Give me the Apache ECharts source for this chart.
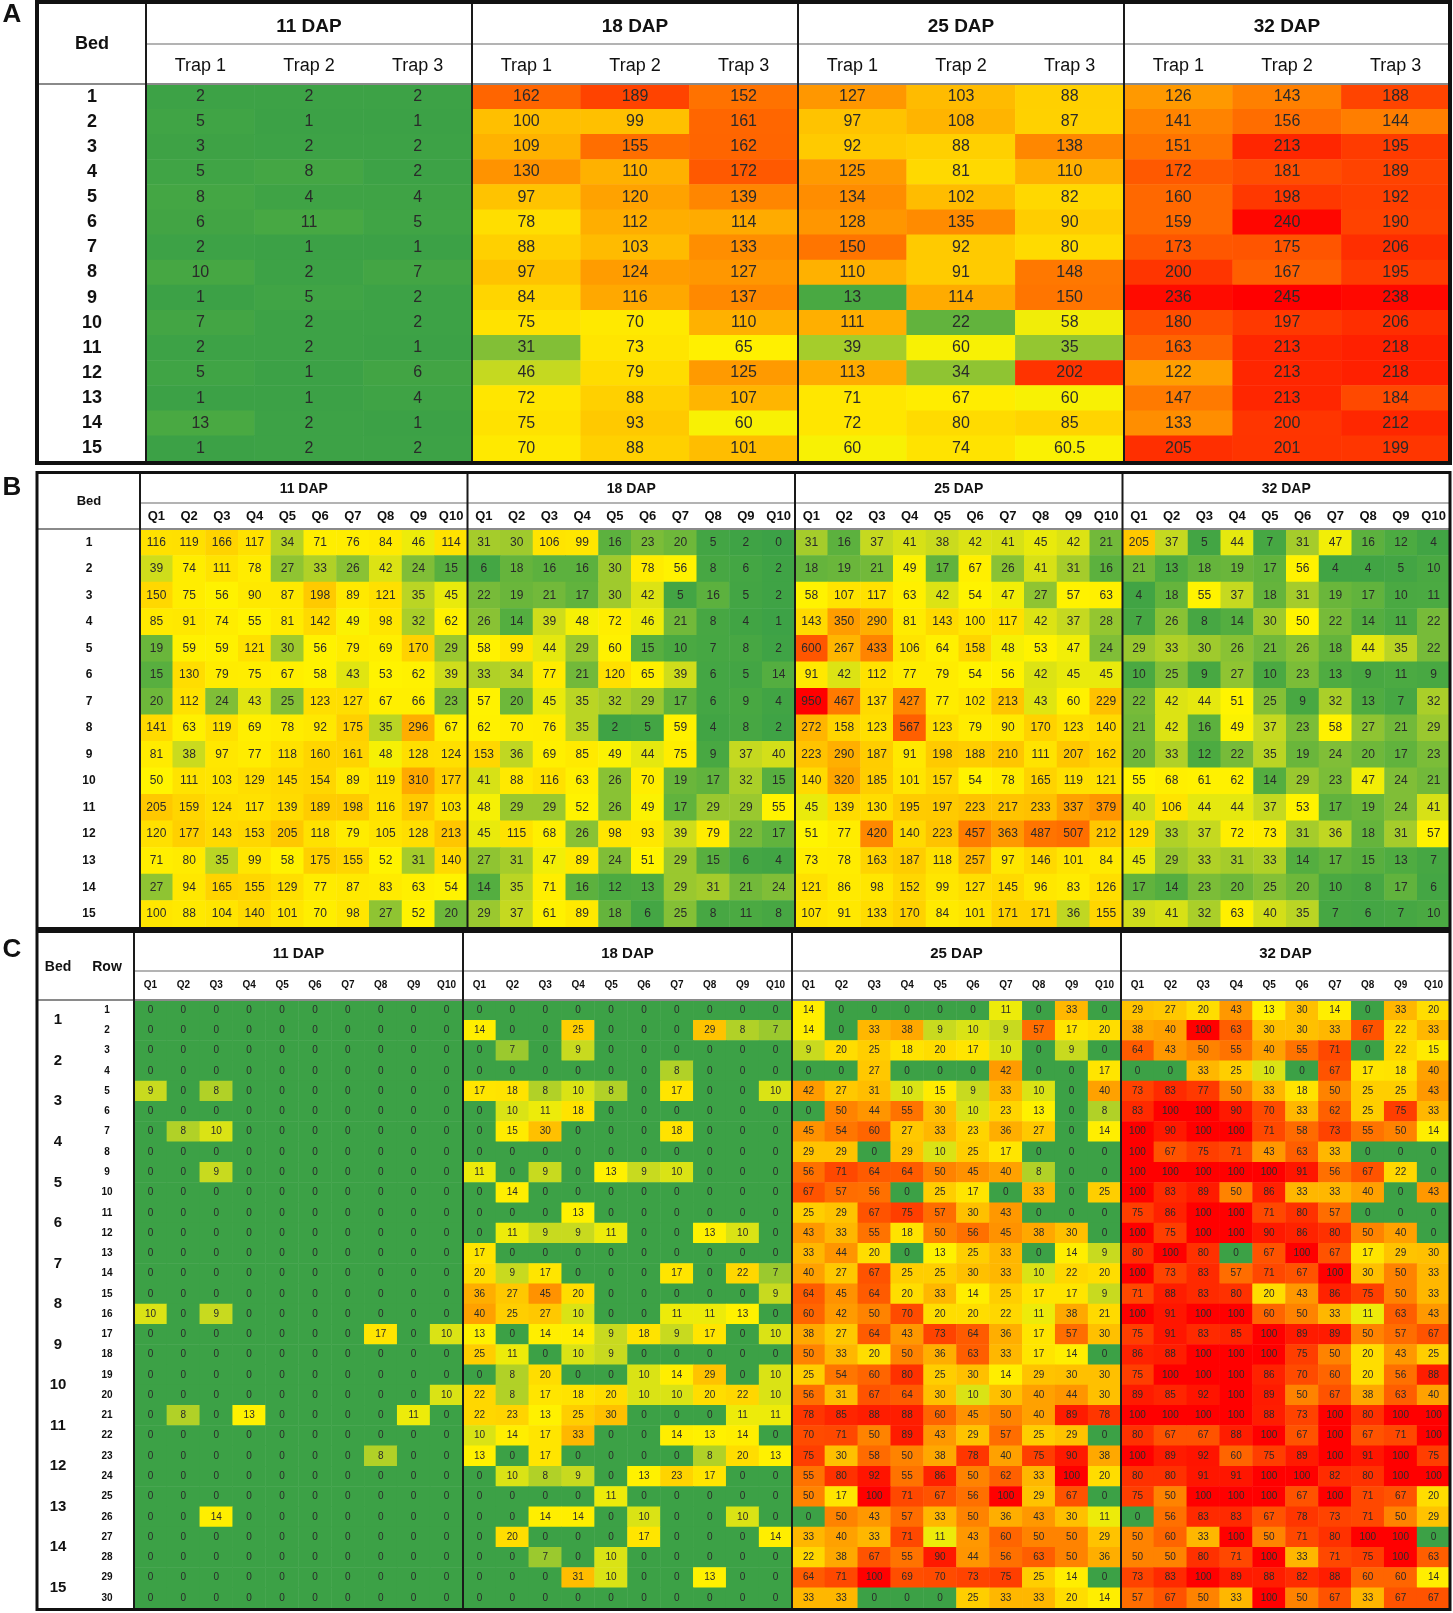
<!DOCTYPE html>
<html>
<head>
<meta charset="utf-8">
<script src="https://cdn.jsdelivr.net/npm/echarts@6/dist/echarts.min.js"></script>
<style>
html, body { margin: 0; padding: 0; background: #fff; }
#chart { width: 1453px; height: 1613px; }
</style>
</head>
<body>
<div id="chart"></div>
<script>
// header / tick labels
const dapLabels = ['11 DAP', '18 DAP', '25 DAP', '32 DAP'];
const trapLabels = ['Trap 1', 'Trap 2', 'Trap 3'];
const qLabels = ['Q1', 'Q2', 'Q3', 'Q4', 'Q5', 'Q6', 'Q7', 'Q8', 'Q9', 'Q10'];
const bedLabels = ['1', '2', '3', '4', '5', '6', '7', '8', '9', '10', '11', '12', '13', '14', '15'];
const rowLabels = ['1', '2', '3', '4', '5', '6', '7', '8', '9', '10', '11', '12', '13', '14', '15',
  '16', '17', '18', '19', '20', '21', '22', '23', '24', '25', '26', '27', '28', '29', '30'];

// A: counts per trap (rows = beds)
const a11 = [[2,2,2],[5,1,1],[3,2,2],[5,8,2],[8,4,4],[6,11,5],[2,1,1],[10,2,7],[1,5,2],[7,2,2],[2,2,1],[5,1,6],[1,1,4],[13,2,1],[1,2,2]];
const a18 = [[162,189,152],[100,99,161],[109,155,162],[130,110,172],[97,120,139],[78,112,114],[88,103,133],[97,124,127],[84,116,137],[75,70,110],[31,73,65],[46,79,125],[72,88,107],[75,93,60],[70,88,101]];
const a25 = [[127,103,88],[97,108,87],[92,88,138],[125,81,110],[134,102,82],[128,135,90],[150,92,80],[110,91,148],[13,114,150],[111,22,58],[39,60,35],[113,34,202],[71,67,60],[72,80,85],[60,74,60.5]];
const a32 = [[126,143,188],[141,156,144],[151,213,195],[172,181,189],[160,198,192],[159,240,190],[173,175,206],[200,167,195],[236,245,238],[180,197,206],[163,213,218],[122,213,218],[147,213,184],[133,200,212],[205,201,199]];

// B: per quadrat (rows = beds)
const b11 = [
  [116,119,166,117,34,71,76,84,46,114],[39,74,111,78,27,33,26,42,24,15],[150,75,56,90,87,198,89,121,35,45],
  [85,91,74,55,81,142,49,98,32,62],[19,59,59,121,30,56,79,69,170,29],[15,130,79,75,67,58,43,53,62,39],
  [20,112,24,43,25,123,127,67,66,23],[141,63,119,69,78,92,175,35,296,67],[81,38,97,77,118,160,161,48,128,124],
  [50,111,103,129,145,154,89,119,310,177],[205,159,124,117,139,189,198,116,197,103],[120,177,143,153,205,118,79,105,128,213],
  [71,80,35,99,58,175,155,52,31,140],[27,94,165,155,129,77,87,83,63,54],[100,88,104,140,101,70,98,27,52,20]];
const b18 = [
  [31,30,106,99,16,23,20,5,2,0],[6,18,16,16,30,78,56,8,6,2],[22,19,21,17,30,42,5,16,5,2],
  [26,14,39,48,72,46,21,8,4,1],[58,99,44,29,60,15,10,7,8,2],[33,34,77,21,120,65,39,6,5,14],
  [57,20,45,35,32,29,17,6,9,4],[62,70,76,35,2,5,59,4,8,2],[153,36,69,85,49,44,75,9,37,40],
  [41,88,116,63,26,70,19,17,32,15],[48,29,29,52,26,49,17,29,29,55],[45,115,68,26,98,93,39,79,22,17],
  [27,31,47,89,24,51,29,15,6,4],[14,35,71,16,12,13,29,31,21,24],[29,37,61,89,18,6,25,8,11,8]];
const b25 = [
  [31,16,37,41,38,42,41,45,42,21],[18,19,21,49,17,67,26,41,31,16],[58,107,117,63,42,54,47,27,57,63],
  [143,350,290,81,143,100,117,42,37,28],[600,267,433,106,64,158,48,53,47,24],[91,42,112,77,79,54,56,42,45,45],
  [950,467,137,427,77,102,213,43,60,229],[272,158,123,567,123,79,90,170,123,140],[223,290,187,91,198,188,210,111,207,162],
  [140,320,185,101,157,54,78,165,119,121],[45,139,130,195,197,223,217,233,337,379],[51,77,420,140,223,457,363,487,507,212],
  [73,78,163,187,118,257,97,146,101,84],[121,86,98,152,99,127,145,96,83,126],[107,91,133,170,84,101,171,171,36,155]];
const b32 = [
  [205,37,5,44,7,31,47,16,12,4],[21,13,18,19,17,56,4,4,5,10],[4,18,55,37,18,31,19,17,10,11],
  [7,26,8,14,30,50,22,14,11,22],[29,33,30,26,21,26,18,44,35,22],[10,25,9,27,10,23,13,9,11,9],
  [22,42,44,51,25,9,32,13,7,32],[21,42,16,49,37,23,58,27,21,29],[20,33,12,22,35,19,24,20,17,23],
  [55,68,61,62,14,29,23,47,24,21],[40,106,44,44,37,53,17,19,24,41],[129,33,37,72,73,31,36,18,31,57],
  [45,29,33,31,33,14,17,15,13,7],[17,14,23,20,25,20,10,8,17,6],[39,41,32,63,40,35,7,6,7,10]];

// C: per quadrat (rows 1-30, two per bed)
const c11 = [
  [0,0,0,0,0,0,0,0,0,0],[0,0,0,0,0,0,0,0,0,0],[0,0,0,0,0,0,0,0,0,0],[0,0,0,0,0,0,0,0,0,0],
  [9,0,8,0,0,0,0,0,0,0],[0,0,0,0,0,0,0,0,0,0],[0,8,10,0,0,0,0,0,0,0],[0,0,0,0,0,0,0,0,0,0],
  [0,0,9,0,0,0,0,0,0,0],[0,0,0,0,0,0,0,0,0,0],[0,0,0,0,0,0,0,0,0,0],[0,0,0,0,0,0,0,0,0,0],
  [0,0,0,0,0,0,0,0,0,0],[0,0,0,0,0,0,0,0,0,0],[0,0,0,0,0,0,0,0,0,0],[10,0,9,0,0,0,0,0,0,0],
  [0,0,0,0,0,0,0,17,0,10],[0,0,0,0,0,0,0,0,0,0],[0,0,0,0,0,0,0,0,0,0],[0,0,0,0,0,0,0,0,0,10],
  [0,8,0,13,0,0,0,0,11,0],[0,0,0,0,0,0,0,0,0,0],[0,0,0,0,0,0,0,8,0,0],[0,0,0,0,0,0,0,0,0,0],
  [0,0,0,0,0,0,0,0,0,0],[0,0,14,0,0,0,0,0,0,0],[0,0,0,0,0,0,0,0,0,0],[0,0,0,0,0,0,0,0,0,0],
  [0,0,0,0,0,0,0,0,0,0],[0,0,0,0,0,0,0,0,0,0]];
const c18 = [
  [0,0,0,0,0,0,0,0,0,0],[14,0,0,25,0,0,0,29,8,7],[0,7,0,9,0,0,0,0,0,0],[0,0,0,0,0,0,8,0,0,0],
  [17,18,8,10,8,0,17,0,0,10],[0,10,11,18,0,0,0,0,0,0],[0,15,30,0,0,0,18,0,0,0],[0,0,0,0,0,0,0,0,0,0],
  [11,0,9,0,13,9,10,0,0,0],[0,14,0,0,0,0,0,0,0,0],[0,0,0,13,0,0,0,0,0,0],[0,11,9,9,11,0,0,13,10,0],
  [17,0,0,0,0,0,0,0,0,0],[20,9,17,0,0,0,17,0,22,7],[36,27,45,20,0,0,0,0,0,9],[40,25,27,10,0,0,11,11,13,0],
  [13,0,14,14,9,18,9,17,0,10],[25,11,0,10,9,0,0,0,0,0],[0,8,20,0,0,10,14,29,0,10],[22,8,17,18,20,10,10,20,22,10],
  [22,23,13,25,30,0,0,0,11,11],[10,14,17,33,0,0,14,13,14,0],[13,0,17,0,0,0,0,8,20,13],[0,10,8,9,0,13,23,17,0,0],
  [0,0,0,0,11,0,0,0,0,0],[0,0,14,14,0,10,0,0,10,0],[0,20,0,0,0,17,0,0,0,14],[0,0,7,0,10,0,0,0,0,0],
  [0,0,0,31,10,0,0,13,0,0],[0,0,0,0,0,0,0,0,0,0]];
const c25 = [
  [14,0,0,0,0,0,11,0,33,0],[14,0,33,38,9,10,9,57,17,20],[9,20,25,18,20,17,10,0,9,0],[0,0,27,0,0,0,42,0,0,17],
  [42,27,31,10,15,9,33,10,0,40],[0,50,44,55,30,10,23,13,0,8],[45,54,60,27,33,23,36,27,0,14],[29,29,0,29,10,25,17,0,0,0],
  [56,71,64,64,50,45,40,8,0,0],[67,57,56,0,25,17,0,33,0,25],[25,29,67,75,57,30,43,0,0,0],[43,33,55,18,50,56,45,38,30,0],
  [33,44,20,0,13,25,33,0,14,9],[40,27,67,25,25,30,33,10,22,20],[64,45,64,20,33,14,25,17,17,9],[60,42,50,70,20,20,22,11,38,21],
  [38,27,64,43,73,64,36,17,57,30],[50,33,20,50,36,63,33,17,14,0],[25,54,60,80,25,30,14,29,30,30],[56,31,67,64,30,10,30,40,44,30],
  [78,85,88,88,60,45,50,40,89,78],[70,71,50,89,43,29,57,25,29,0],[75,30,58,50,38,78,40,75,90,38],[55,80,92,55,86,50,62,33,100,20],
  [50,17,100,71,67,56,100,29,67,0],[0,50,43,57,33,50,36,43,30,11],[33,40,33,71,11,43,60,50,50,29],[22,38,67,55,90,44,56,63,50,36],
  [64,71,100,69,70,73,75,25,14,0],[33,33,0,0,0,25,33,33,20,14]];
const c32 = [
  [29,27,20,43,13,30,14,0,33,20],[38,40,100,63,30,30,33,67,22,33],[64,43,50,55,40,55,71,0,22,15],[0,0,33,25,10,0,67,17,18,40],
  [73,83,77,50,33,18,50,25,25,43],[83,100,100,90,70,33,62,25,75,33],[100,90,100,100,71,58,73,55,50,14],[100,67,75,71,43,63,33,0,0,0],
  [100,100,100,100,100,91,56,67,22,0],[100,83,89,50,86,33,33,40,0,43],[75,86,100,100,71,80,57,0,0,0],[100,75,100,100,90,86,80,50,40,0],
  [80,100,80,0,67,100,67,17,29,30],[100,73,83,57,71,67,100,30,50,33],[71,88,83,80,20,43,86,75,50,33],[100,91,100,100,60,50,33,11,63,43],
  [75,91,83,85,100,89,89,50,57,67],[86,88,100,100,100,75,50,20,43,25],[75,100,100,100,86,70,60,20,56,88],[89,85,92,100,89,50,67,38,63,40],
  [100,100,100,100,88,73,100,80,100,100],[80,67,67,88,100,67,100,67,71,100],[100,89,92,60,75,89,100,91,100,75],[80,80,91,91,100,100,82,80,100,100],
  [75,50,100,100,100,67,100,71,67,20],[0,56,83,83,67,78,73,71,50,29],[50,60,33,100,50,71,80,100,100,0],[50,50,80,71,100,33,71,75,100,63],
  [73,83,100,89,88,82,88,60,60,14],[57,67,50,33,100,50,67,33,67,67]];

// colour-scale midpoints (yellow) per panel
const midA = 62, midB = 50, midC = 12;
const heatColors = ['#3ca146', '#4dab41', '#84c036', '#c8da1f', '#fff400', '#ffb400', '#ff7000', '#ff3600', '#ff0000'];

const FONT = '"Liberation Sans", Arial, sans-serif';
const NARROW = '"Liberation Sans Narrow", "Arial Narrow", "Liberation Sans", Arial, sans-serif';

// panel frames
const LA = { top: 4, dap: 44, head: 84, bottom: 461, left: 37, gridLeft: 146, right: 1450, frameW: 4 };
const LB = { top: 474, dap: 503, head: 529, bottom: 927, left: 37, gridLeft: 140, right: 1450, frameW: 3 };
const LC = { top: 933, dap: 971, head: 1000, bottom: 1608, left: 37, gridLeft: 134, right: 1450, frameW: 3 };

function cells(blocks, mid) {
  const flat = blocks.flat(2);
  const lo = Math.min(...flat), hi = Math.max(...flat);
  const n = blocks[0][0].length;
  const out = [];
  blocks.forEach((blk, b) => blk.forEach((row, i) => row.forEach((v, j) => {
    const t = v <= mid ? 0.5 * (v - lo) / (mid - lo) : 0.5 + 0.5 * (v - mid) / (hi - mid);
    out.push([b * n + j, i, v, t]);
  })));
  return out;
}

function gridOf(L) {
  return { left: L.gridLeft, top: L.head, width: L.right - L.gridLeft, height: L.bottom - L.head,
    containLabel: false, outerBoundsMode: 'none' };
}

function colAxis(g, sub, margin, font) {
  return {
    type: 'category', gridIndex: g, position: 'top',
    data: dapLabels.flatMap(d => sub.map(s => d + '|' + s)),
    axisLine: { show: false }, axisTick: { show: false }, splitLine: { show: false },
    axisLabel: Object.assign({ interval: 0, margin: margin, verticalAlign: 'middle', color: '#111',
      fontFamily: FONT, formatter: v => v.split('|')[1] }, font)
  };
}

function dapAxis(g, offset, margin, size) {
  return {
    type: 'category', gridIndex: g, position: 'top', offset: offset, data: dapLabels,
    axisLine: { show: false }, axisTick: { show: false }, splitLine: { show: false },
    axisLabel: { interval: 0, margin: margin, verticalAlign: 'middle', color: '#111',
      fontFamily: FONT, fontWeight: 'bold', fontSize: size }
  };
}

function rowAxis(g, labels, margin, size) {
  return {
    type: 'category', gridIndex: g, position: 'left', inverse: true, data: labels,
    axisLine: { show: false }, axisTick: { show: false }, splitLine: { show: false },
    axisLabel: { interval: 0, margin: margin, align: 'center', color: '#111',
      fontFamily: FONT, fontWeight: 'bold', fontSize: size }
  };
}

function heat(xi, yi, data, size, family) {
  return {
    type: 'heatmap', xAxisIndex: xi, yAxisIndex: yi, data: data, progressive: 0,
    itemStyle: { borderWidth: 0 },
    emphasis: { disabled: true },
    label: { show: true, formatter: p => p.data[2], fontSize: size, fontFamily: family, color: '#2a2a2a' }
  };
}

function frame(L) {
  const els = [];
  const w = (L.right - L.gridLeft) / 4;
  els.push({ type: 'line', z: 100, shape: { x1: L.gridLeft, y1: L.dap, x2: L.right, y2: L.dap },
    style: { stroke: '#9a9a9a', lineWidth: 1.5 } });
  els.push({ type: 'line', z: 100, shape: { x1: L.left, y1: L.head, x2: L.right, y2: L.head },
    style: { stroke: '#8a8a8a', lineWidth: 2 } });
  for (let k = 0; k < 4; k++) {
    const x = L.gridLeft + k * w;
    els.push({ type: 'line', z: 101, shape: { x1: x, y1: L.top, x2: x, y2: L.bottom },
      style: { stroke: '#1a1a1a', lineWidth: 2 } });
  }
  els.push({ type: 'rect', z: 102,
    shape: { x: L.left, y: L.top - L.frameW / 2, width: L.right - L.left, height: L.bottom - L.top + L.frameW },
    style: { fill: null, stroke: '#111', lineWidth: L.frameW } });
  return els;
}

function txt(x, y, text, size) {
  return { type: 'text', z: 103, x: x, y: y,
    style: { text: text, fill: '#111', font: 'bold ' + size + 'px ' + FONT, align: 'center', verticalAlign: 'middle' } };
}

const chart = echarts.init(document.getElementById('chart'));
chart.setOption({
  backgroundColor: '#fff',
  animation: false,
  grid: [gridOf(LA), gridOf(LB), gridOf(LC)],
  xAxis: [
    colAxis(0, trapLabels, 18, { fontSize: 18 }),
    dapAxis(0, LA.head - LA.dap, 17, 19),
    colAxis(1, qLabels, 13, { fontSize: 13, fontWeight: 'bold' }),
    dapAxis(1, LB.head - LB.dap, 14, 14),
    colAxis(2, qLabels, 15, { fontSize: 10, fontWeight: 'bold' }),
    dapAxis(2, LC.head - LC.dap, 17, 15)
  ],
  yAxis: [
    rowAxis(0, bedLabels, LA.gridLeft - 92, 18),
    rowAxis(1, bedLabels, LB.gridLeft - 89, 12),
    rowAxis(2, rowLabels, LC.gridLeft - 107, 10),
    rowAxis(2, bedLabels, LC.gridLeft - 58, 15)
  ],
  visualMap: {
    type: 'continuous', show: false, dimension: 3, min: 0, max: 1,
    seriesIndex: [0, 1, 2], inRange: { color: heatColors }
  },
  series: [
    heat(0, 0, cells([a11, a18, a25, a32], midA), 16, FONT),
    heat(2, 1, cells([b11, b18, b25, b32], midB), 12, NARROW),
    heat(4, 2, cells([c11, c18, c25, c32], midC), 10, NARROW)
  ],
  graphic: [].concat(
    frame(LA), frame(LB), frame(LC),
    [
      txt(92, (LA.top + LA.head) / 2, 'Bed', 18),
      txt(89, (LB.top + LB.head) / 2, 'Bed', 13),
      txt(58, 967, 'Bed', 14),
      txt(107, 967, 'Row', 14),
      txt(12, 15, 'A', 26),
      txt(12, 488, 'B', 26),
      txt(12, 950, 'C', 26)
    ]
  )
});
</script>
</body>
</html>
